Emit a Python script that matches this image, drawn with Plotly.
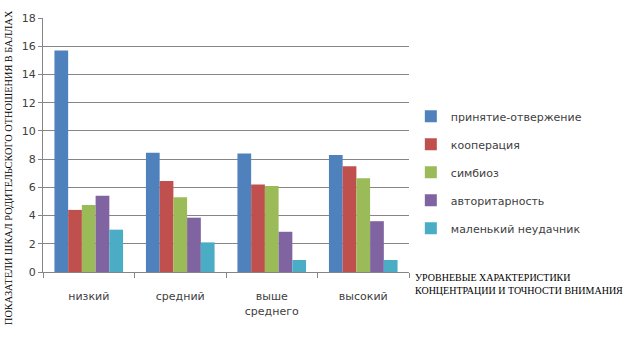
import plotly.graph_objects as go

categories = ["низкий", "средний", "выше<br>среднего", "высокий"]
series_names = ["принятие-отвержение", "кооперация", "симбиоз", "авторитарность", "маленький неудачник"]
acceptance = [15.7, 8.45, 8.4, 8.3]
cooperation = [4.4, 6.45, 6.2, 7.5]
symbiosis = [4.75, 5.3, 6.1, 6.65]
authoritarian = [5.4, 3.85, 2.85, 3.6]
little_loser = [3.0, 2.1, 0.85, 0.85]
colors = ["#4F81BD", "#C0504D", "#9BBB59", "#8064A2", "#4BACC6"]
y_ticks = [0, 2, 4, 6, 8, 10, 12, 14, 16, 18]

values = [acceptance, cooperation, symbiosis, authoritarian, little_loser]

fig = go.Figure()
for i, (name, vals, col) in enumerate(zip(series_names, values, colors)):
    fig.add_trace(go.Bar(x=categories, y=vals, name=name, marker_color=col,
                         marker_line_width=0, legendgroup=str(i)))

font_main = "DejaVu Sans"
fig.update_layout(
    width=628, height=352,
    margin=dict(l=43, r=219, t=18, b=80),
    paper_bgcolor="white", plot_bgcolor="white",
    barmode="group", bargap=0.25, bargroupgap=0,
    showlegend=True,
    legend=dict(x=1.005, y=0.67, xanchor="left", yanchor="top",
                font=dict(family=font_main, size=11, color="#404040"),
                tracegroupgap=9, itemwidth=30, bgcolor="rgba(0,0,0,0)"),
    xaxis=dict(showline=True, linecolor="#868686", linewidth=1,
               ticks="outside", tickson="boundaries", ticklen=5, tickcolor="#868686",
               tickfont=dict(family=font_main, size=11, color="#404040"),
               ticklabelstandoff=14,
               showgrid=False),
    yaxis=dict(range=[0, 18], tickvals=y_ticks, showline=True, linecolor="#868686",
               linewidth=1, ticks="outside", ticklen=4, tickcolor="#868686",
               showgrid=True, gridcolor="#868686", gridwidth=1,
               tickfont=dict(family=font_main, size=11, color="#404040"),
               zeroline=False),
)

fig.add_annotation(text="ПОКАЗАТЕЛИ ШКАЛ РОДИТЕЛЬСКОГО ОТНОШЕНИЯ В БАЛЛАХ",
                   xref="paper", yref="paper", x=-35/366, y=(272-168)/254,
                   xanchor="center", yanchor="middle", textangle=-90, showarrow=False,
                   font=dict(family="Liberation Serif", size=10.3, color="black"))
fig.add_annotation(text="УРОВНЕВЫЕ ХАРАКТЕРИСТИКИ<br>КОНЦЕНТРАЦИИ И ТОЧНОСТИ ВНИМАНИЯ",
                   xref="paper", yref="paper", x=(413-43)/366, y=(272-270)/254,
                   xanchor="left", yanchor="top", align="left", showarrow=False,
                   font=dict(family="Liberation Serif", size=10, color="black"))

fig.write_html("out.html")
